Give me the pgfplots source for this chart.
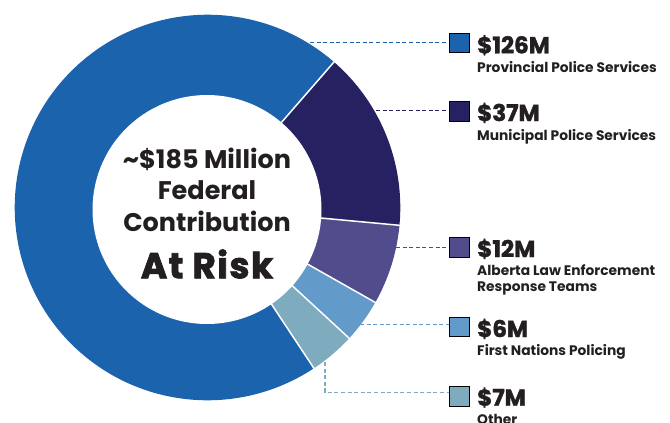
\documentclass[border=0pt]{standalone}
\usepackage{pgfplots}
\pgfplotsset{compat=1.18}
\usepackage{fontspec}
\setmainfont{Poppins}
\newfontfamily\heavy{Poppins}[FakeBold=1.6]
\newfontfamily\heavyw{Poppins}[FakeBold=2.2, LetterSpace=4]
\definecolor{cProv}{HTML}{1B64AD}
\definecolor{cMuni}{HTML}{262262}
\definecolor{cAlert}{HTML}{514D8D}
\definecolor{cFN}{HTML}{629ACA}
\definecolor{cOther}{HTML}{7EABBE}
\definecolor{txt}{HTML}{231F20}
% slices: value ($M) and the angular span (degrees) as drawn in the reference
% Provincial 126 : 49 .. 303.5
% Municipal   37 : -5.3 .. 49
% ALERT       12 : -29.5 .. -5.3
% First Nations 6: -42.7 .. -29.5
% Other        7 : -56.5 .. -42.7
\begin{document}
\begin{tikzpicture}
\begin{axis}[x=1pt, y=1pt, xmin=0, xmax=670, ymin=0, ymax=423, y dir=reverse,
  axis lines=none, scale only axis, clip=false, anchor=origin]
% donut sectors
\addplot[fill=cProv, draw=none, domain=49:303.5, samples=200] ({207.5+192.8*cos(x)},{207.5-192.8*sin(x)}) -- (axis cs:207.5,207.5) -- cycle;
\addplot[fill=cMuni, draw=none, domain=-5.3:49, samples=60] ({207.5+192.8*cos(x)},{207.5-192.8*sin(x)}) -- (axis cs:207.5,207.5) -- cycle;
\addplot[fill=cAlert, draw=none, domain=-29.5:-5.3, samples=30] ({207.5+192.8*cos(x)},{207.5-192.8*sin(x)}) -- (axis cs:207.5,207.5) -- cycle;
\addplot[fill=cFN, draw=none, domain=-42.7:-29.5, samples=20] ({207.5+192.8*cos(x)},{207.5-192.8*sin(x)}) -- (axis cs:207.5,207.5) -- cycle;
\addplot[fill=cOther, draw=none, domain=-56.5:-42.7, samples=20] ({207.5+192.8*cos(x)},{207.5-192.8*sin(x)}) -- (axis cs:207.5,207.5) -- cycle;
% white separators
\addplot[white, line width=1.5pt, domain=100:196, samples=2] ({207.5+x*cos(49)},{207.5-x*sin(49)});
\addplot[white, line width=1.5pt, domain=100:196, samples=2] ({207.5+x*cos(-5.3)},{207.5-x*sin(-5.3)});
\addplot[white, line width=1.5pt, domain=100:196, samples=2] ({207.5+x*cos(-29.5)},{207.5-x*sin(-29.5)});
\addplot[white, line width=1.5pt, domain=100:196, samples=2] ({207.5+x*cos(-42.7)},{207.5-x*sin(-42.7)});
\addplot[white, line width=1.5pt, domain=100:196, samples=2] ({207.5+x*cos(-56.5)},{207.5-x*sin(-56.5)});
% hole
\addplot[fill=white, draw=none, domain=0:360, samples=181] ({207+114.5*cos(x)},{209.5-114.5*sin(x)});
% leader lines
\addplot[cProv, line width=1.2pt, dash pattern=on 4pt off 2.6pt] coordinates {(310,42.7) (449,42.7)};
\addplot[cMuni, line width=1.2pt, dash pattern=on 4pt off 2.6pt] coordinates {(376,110.7) (449,110.7)};
\addplot[cAlert, line width=1.2pt, dash pattern=on 4pt off 2.6pt] coordinates {(396,247.3) (449,247.3)};
\addplot[cFN, line width=1.2pt, dash pattern=on 4pt off 2.6pt] coordinates {(360,324.7) (449,324.7)};
\addplot[cOther, line width=1.2pt, dash pattern=on 4pt off 2.6pt] coordinates {(325,362) (325,392.3) (449,392.3)};
% legend squares
\addplot[only marks, mark=square*, mark size=9.7pt, mark options={fill=cProv, draw=none}] coordinates {(459,42.5)};
\addplot[only marks, mark=square*, mark size=9.7pt, mark options={fill=cMuni, draw=none}] coordinates {(459,111)};
\addplot[only marks, mark=square*, mark size=9.7pt, mark options={fill=cAlert, draw=none}] coordinates {(459,247.3)};
\addplot[only marks, mark=square*, mark size=9.7pt, mark options={fill=cFN, draw=none}] coordinates {(459,326.5)};
\addplot[only marks, mark=square*, mark size=9.7pt, mark options={fill=cOther, draw=none}] coordinates {(459,396.3)};
% legend text
\begin{scope}[every node/.style={anchor=base west, inner sep=0pt, text=txt}]
\node at (axis cs:477,53.3) {\fontsize{23}{23}\selectfont\heavy\bfseries \$126M};
\node at (axis cs:477,72) {\fontsize{13.8}{13.8}\selectfont\bfseries Provincial Police Services};
\node at (axis cs:477,121) {\fontsize{23}{23}\selectfont\heavy\bfseries \$37M};
\node at (axis cs:477,140) {\fontsize{13.8}{13.8}\selectfont\bfseries Municipal Police Services};
\node at (axis cs:477,257) {\fontsize{23}{23}\selectfont\heavy\bfseries \$12M};
\node at (axis cs:477,275) {\fontsize{13.8}{13.8}\selectfont\bfseries Alberta Law Enforcement};
\node at (axis cs:477,291) {\fontsize{13.8}{13.8}\selectfont\bfseries Response Teams};
\node at (axis cs:477,337) {\fontsize{23}{23}\selectfont\heavy\bfseries \$6M};
\node at (axis cs:477,355) {\fontsize{13.8}{13.8}\selectfont\bfseries First Nations Policing};
\node at (axis cs:477,405.7) {\fontsize{23}{23}\selectfont\heavy\bfseries \$7M};
\node at (axis cs:477,424.5) {\fontsize{13.8}{13.8}\selectfont\bfseries Other};
\end{scope}
% centre text
\begin{scope}[every node/.style={anchor=base, inner sep=0pt, text=txt}]
\node at (axis cs:207,168.3) {\fontsize{25.5}{25.5}\selectfont\bfseries \textasciitilde\$185 Million};
\node at (axis cs:207,199.3) {\fontsize{25.5}{25.5}\selectfont\bfseries Federal};
\node at (axis cs:207,231.7) {\fontsize{25.5}{25.5}\selectfont\bfseries Contribution};
\node at (axis cs:207,278.3) {\fontsize{36}{36}\selectfont\heavyw\bfseries At Risk};
\end{scope}
\end{axis}
\pgfresetboundingbox
\path[use as bounding box] (0pt,-423pt) rectangle (670pt,0pt);
\end{tikzpicture}
\end{document}
